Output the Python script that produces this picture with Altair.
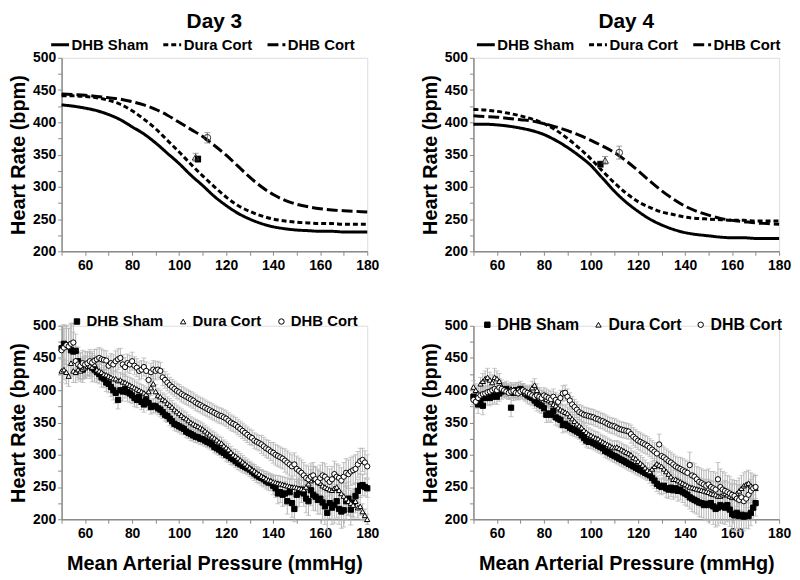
import altair as alt
import pandas as pd

SERIES = ["DHB Sham", "Dura Cort", "DHB Cort"]
FONT = "Liberation Sans"

# ---------- fitted curves (top panels), read every 5 mmHg ----------
curve_x = list(range(50, 181, 5))
d3_curve_sham = [427, 425, 422, 418, 412, 404, 393, 382, 368, 352, 336, 318, 302, 285,
                 271, 259, 250, 243, 238, 235, 233, 232, 231, 231, 230, 230, 230]
d3_curve_dura = [441, 441, 440, 438, 434, 428, 418, 405, 390, 372, 354, 335, 317, 300,
                 284, 271, 262, 255, 250, 247, 245, 244, 243, 243, 242, 242, 242]
d3_curve_cort = [444, 443, 442, 440, 438, 436, 432, 427, 420, 411, 400, 389, 378, 364,
                 349, 332, 315, 300, 288, 279, 273, 269, 266, 264, 263, 262, 261]
d4_curve_sham = [397, 397, 396, 394, 391, 387, 381, 372, 361, 348, 333, 313, 293, 276,
                 262, 250, 241, 234, 229, 226, 224, 222, 221, 221, 220, 220, 220]
d4_curve_dura = [420, 419, 417, 414, 410, 405, 398, 388, 375, 360, 343, 324, 306, 290,
                 277, 268, 261, 257, 253, 251, 250, 249, 248, 248, 247, 247, 247]
d4_curve_cort = [410, 409, 408, 406, 404, 402, 398, 393, 387, 380, 372, 363, 353, 340,
                 325, 309, 294, 281, 270, 262, 256, 251, 248, 246, 244, 243, 242]

# ---------- BP50 markers on the fitted curves ----------
d3_mark_x = [108, 107, 112]
d3_mark_hr = [343, 346, 376]
d3_mark_err = [5, 6, 8]
d4_mark_x = [104, 106, 112]
d4_mark_hr = [335, 341, 353]
d4_mark_err = [5, 6, 10]

# ---------- raw data (bottom panels) ----------
d3_x = list(range(50, 181))
d3_sham = [465, 472, 470, 468, 462, 460, 461, 445, 438, 432,
           436, 440, 438, 435, 432, 428, 425, 420, 418, 412,
           410, 405, 400, 396, 385, 400, 398, 402, 397, 395,
           392, 388, 385, 390, 382, 378, 385, 380, 374, 376,
           375, 372, 370, 366, 362, 360, 356, 352, 348, 346,
           344, 342, 340, 336, 334, 332, 330, 328, 327, 325,
           324, 322, 320, 318, 316, 312, 310, 308, 305, 303,
           300, 298, 295, 293, 290, 287, 285, 283, 281, 279,
           277, 274, 271, 268, 266, 264, 262, 259, 257, 256,
           252, 248, 240, 242, 238, 240, 228, 242, 225, 216,
           238, 242, 246, 240, 232, 228, 245, 238, 235, 230,
           232, 226, 220, 210, 225, 218, 222, 228, 216, 212,
           214, 228, 232, 215, 226, 236, 244, 252, 253, 250,
           248]
d3_dura = [430, 432, 428, 422, 442, 430, 428, 432, 430, 433,
           435, 437, 438, 436, 440, 432, 430, 428, 425, 424,
           422, 420, 418, 418, 415, 416, 413, 412, 410, 408,
           406, 404, 402, 400, 398, 396, 394, 398, 404, 410,
           398, 392, 390, 386, 384, 380, 377, 374, 370, 367,
           364, 361, 358, 356, 353, 350, 348, 346, 344, 342,
           340, 337, 334, 331, 328, 326, 323, 320, 318, 314,
           311, 308, 304, 300, 298, 295, 292, 289, 286, 283,
           280, 277, 275, 272, 270, 267, 265, 263, 261, 260,
           258, 257, 256, 255, 254, 253, 252, 251, 250, 250,
           249, 248, 247, 246, 250, 255, 260, 264, 262, 258,
           256, 252, 250, 248, 246, 245, 248, 250, 245, 240,
           236, 232, 228, 225, 222, 228, 218, 220, 212, 206,
           200]
d3_cort = [462, 466, 470, 468, 472, 474, 445, 440, 438, 442,
           440, 442, 445, 443, 446, 448, 450, 448, 447, 446,
           438, 442, 440, 445, 448, 450, 440, 436, 442, 440,
           445, 438, 435, 430, 432, 436, 430, 416, 428, 432,
           430, 432, 430, 420, 416, 412, 408, 405, 402, 399,
           397, 394, 392, 390, 388, 386, 384, 381, 379, 377,
           375, 373, 371, 369, 367, 365, 363, 361, 360, 358,
           356, 353, 350, 348, 346, 343, 340, 337, 334, 331,
           328, 326, 322, 320, 318, 316, 313, 310, 308, 305,
           303, 300, 298, 296, 294, 291, 288, 285, 282, 285,
           278, 275, 272, 268, 264, 262, 266, 268, 262, 258,
           264, 268, 266, 262, 258, 262, 270, 266, 264, 260,
           266, 272, 270, 274, 276, 278, 285, 290, 292, 288,
           282]
d3_sham_err = [35, 30, 30, 28, 40, 30, 26, 22, 20, 20,
               18, 18, 20, 22, 18, 16, 15, 15, 14, 14,
               14, 15, 15, 16, 14, 16, 15, 14, 14, 14,
               13, 13, 12, 12, 12, 12, 12, 11, 11, 11,
               10, 10, 11, 10, 10, 10, 11, 10, 10, 10,
               10, 10, 9, 9, 9, 10, 9, 9, 9, 9,
               9, 9, 9, 9, 9, 9, 9, 9, 9, 9,
               10, 10, 10, 10, 10, 10, 10, 10, 10, 10,
               11, 11, 11, 11, 11, 12, 12, 12, 12, 12,
               14, 14, 16, 16, 18, 18, 20, 20, 22, 20,
               20, 22, 20, 20, 22, 22, 24, 24, 22, 22,
               24, 26, 28, 26, 24, 26, 28, 26, 24, 26,
               26, 28, 26, 24, 22, 20, 18, 18, 16, 14,
               14]
d3_dura_err = [18, 16, 18, 16, 20, 18, 16, 16, 16, 16,
               16, 15, 15, 15, 14, 14, 14, 14, 13, 13,
               13, 13, 12, 12, 12, 12, 12, 12, 12, 12,
               12, 12, 11, 11, 11, 11, 11, 12, 12, 12,
               11, 11, 10, 10, 10, 10, 10, 10, 10, 10,
               10, 10, 10, 10, 9, 9, 9, 9, 9, 9,
               9, 9, 9, 9, 9, 9, 9, 9, 9, 9,
               9, 9, 9, 9, 10, 10, 10, 10, 10, 10,
               10, 10, 10, 10, 10, 10, 10, 11, 11, 11,
               11, 11, 12, 12, 12, 12, 12, 12, 12, 12,
               13, 13, 14, 14, 15, 16, 17, 18, 18, 18,
               18, 18, 18, 18, 18, 18, 18, 20, 20, 20,
               20, 20, 20, 20, 20, 18, 16, 14, 12, 10,
               8]
d3_cort_err = [32, 30, 30, 28, 32, 30, 22, 20, 20, 20,
               20, 18, 18, 17, 17, 16, 16, 16, 15, 15,
               15, 15, 15, 16, 16, 15, 15, 15, 14, 14,
               14, 14, 14, 14, 14, 14, 14, 14, 14, 14,
               14, 13, 13, 13, 13, 13, 12, 12, 12, 12,
               12, 12, 12, 12, 12, 12, 12, 12, 12, 12,
               12, 12, 12, 12, 12, 12, 12, 12, 12, 12,
               12, 12, 12, 12, 12, 12, 12, 12, 12, 12,
               12, 12, 12, 12, 12, 14, 14, 14, 14, 14,
               16, 16, 16, 16, 16, 18, 18, 18, 18, 18,
               20, 20, 20, 20, 20, 20, 20, 20, 20, 20,
               20, 20, 20, 20, 20, 20, 20, 20, 20, 20,
               22, 22, 22, 22, 22, 22, 20, 20, 18, 18,
               18]

d4_x = list(range(50, 171))
d4_sham = [390, 386, 378, 385, 376, 388, 390, 388, 390, 392,
           390, 395, 398, 400, 402, 398, 373, 396, 400, 398,
           402, 398, 395, 392, 390, 388, 384, 380, 378, 376,
           372, 362, 364, 362, 368, 358, 356, 354, 346, 348,
           345, 342, 340, 338, 336, 334, 330, 326, 322, 320,
           320, 318, 316, 314, 312, 310, 306, 304, 302, 300,
           298, 296, 294, 292, 290, 288, 286, 284, 282, 280,
           278, 276, 274, 272, 270, 268, 264, 260, 255, 252,
           250, 252, 248, 246, 249, 245, 248, 244, 246, 242,
           240, 238, 234, 232, 230, 228, 226, 225, 222, 224,
           222, 225, 220, 216, 218, 222, 220, 218, 222, 215,
           208, 206, 210, 205, 207, 204, 206, 205, 210, 218,
           225]
d4_dura = [405, 400, 395, 410, 414, 418, 420, 416, 412, 420,
           418, 414, 406, 402, 400, 398, 402, 400, 398, 402,
           398, 400, 395, 396, 398, 404, 408, 400, 394, 390,
           388, 386, 384, 382, 378, 376, 373, 370, 368, 366,
           364, 360, 356, 352, 348, 345, 342, 338, 335, 332,
           330, 328, 326, 325, 322, 320, 318, 316, 314, 312,
           311, 312, 310, 308, 306, 304, 302, 300, 296, 294,
           290, 287, 284, 280, 276, 274, 278, 282, 286, 284,
           282, 278, 274, 270, 266, 262, 262, 260, 258, 256,
           254, 252, 250, 249, 248, 247, 246, 245, 244, 243,
           242, 240, 239, 238, 236, 236, 238, 240, 238, 236,
           234, 236, 240, 244, 248, 252, 254, 256, 252, 250,
           248]
d4_cort = [385, 382, 388, 392, 394, 395, 397, 398, 400, 402,
           400, 404, 402, 400, 398, 396, 398, 399, 396, 395,
           398, 400, 398, 396, 394, 392, 390, 392, 390, 388,
           392, 390, 388, 386, 390, 385, 382, 388, 395, 396,
           390, 384, 378, 374, 370, 366, 364, 362, 361, 360,
           359, 358, 356, 355, 353, 352, 350, 348, 346, 345,
           344, 342, 340, 339, 338, 337, 336, 332, 328, 325,
           322, 320, 318, 316, 314, 311, 308, 305, 302, 316,
           298, 296, 293, 290, 288, 285, 282, 280, 278, 276,
           274, 272, 284, 268, 266, 262, 258, 256, 254, 252,
           254, 250, 248, 246, 262, 250, 246, 244, 242, 240,
           238, 236, 232, 230, 234, 228, 232, 238, 244, 248,
           250]
d4_sham_err = [12, 12, 14, 12, 14, 12, 12, 12, 12, 12,
               12, 12, 12, 12, 12, 12, 14, 12, 12, 12,
               12, 12, 12, 12, 12, 12, 12, 12, 12, 12,
               12, 12, 12, 12, 12, 12, 12, 12, 12, 12,
               10, 10, 10, 10, 10, 10, 10, 10, 10, 10,
               10, 10, 10, 10, 10, 10, 10, 10, 10, 10,
               10, 10, 10, 10, 10, 10, 10, 10, 10, 10,
               10, 10, 10, 10, 10, 12, 12, 12, 12, 12,
               12, 12, 14, 14, 14, 14, 14, 16, 16, 16,
               18, 18, 18, 20, 20, 20, 22, 22, 24, 24,
               26, 26, 28, 28, 28, 28, 26, 26, 26, 26,
               24, 24, 24, 24, 22, 22, 20, 20, 20, 20,
               20]
d4_dura_err = [10, 10, 10, 10, 12, 12, 14, 12, 12, 14,
               12, 12, 10, 10, 10, 10, 10, 10, 10, 10,
               10, 10, 10, 10, 10, 10, 10, 10, 10, 10,
               10, 10, 10, 10, 10, 10, 10, 10, 10, 10,
               10, 10, 10, 10, 10, 10, 10, 10, 10, 10,
               10, 10, 10, 10, 10, 10, 10, 10, 10, 10,
               10, 10, 10, 10, 10, 10, 10, 10, 10, 10,
               12, 12, 12, 12, 12, 12, 12, 12, 12, 12,
               14, 14, 14, 14, 14, 14, 14, 14, 14, 14,
               16, 16, 16, 16, 16, 16, 18, 18, 18, 18,
               20, 20, 20, 20, 20, 20, 20, 20, 20, 20,
               20, 20, 20, 20, 20, 20, 20, 20, 20, 20,
               20]
d4_cort_err = [10, 10, 10, 10, 10, 10, 10, 10, 10, 10,
               10, 14, 10, 10, 10, 10, 10, 10, 10, 10,
               10, 10, 10, 10, 10, 10, 12, 12, 12, 12,
               12, 12, 12, 12, 12, 12, 12, 12, 12, 12,
               12, 12, 12, 12, 12, 12, 12, 12, 12, 12,
               12, 12, 12, 12, 12, 12, 12, 12, 12, 12,
               12, 12, 12, 12, 12, 12, 12, 14, 14, 14,
               14, 14, 14, 14, 14, 14, 14, 14, 14, 16,
               16, 16, 16, 16, 16, 16, 16, 16, 18, 18,
               18, 18, 20, 20, 20, 20, 22, 22, 22, 24,
               24, 24, 26, 26, 26, 28, 28, 28, 26, 26,
               24, 24, 22, 22, 20, 20, 20, 20, 18, 18,
               18]


# ---------- tables ----------
def curve_table(sham, dura, cort):
    rows = []
    for g, vals in zip(SERIES, [sham, dura, cort]):
        for x, v in zip(curve_x, vals):
            rows.append({"x": x, "hr": v, "group": g})
    return pd.DataFrame(rows)


def point_table(xs_list, hr_list, err_list):
    rows = []
    for g, xs, hrs, errs in zip(SERIES, xs_list, hr_list, err_list):
        for x, v, e in zip(xs, hrs, errs):
            rows.append({"x": x, "hr": v, "lo": v - e, "hi": v + e, "group": g})
    return pd.DataFrame(rows)


d3_curves = curve_table(d3_curve_sham, d3_curve_dura, d3_curve_cort)
d4_curves = curve_table(d4_curve_sham, d4_curve_dura, d4_curve_cort)
d3_marks = point_table([[d3_mark_x[i]] for i in range(3)], [[d3_mark_hr[i]] for i in range(3)],
                       [[d3_mark_err[i]] for i in range(3)])
d4_marks = point_table([[d4_mark_x[i]] for i in range(3)], [[d4_mark_hr[i]] for i in range(3)],
                       [[d4_mark_err[i]] for i in range(3)])
d3_raw = point_table([d3_x] * 3, [d3_sham, d3_dura, d3_cort], [d3_sham_err, d3_dura_err, d3_cort_err])
d4_raw = point_table([d4_x] * 3, [d4_sham, d4_dura, d4_cort], [d4_sham_err, d4_dura_err, d4_cort_err])

W, H = 308, 195
AXIS_GREY = "#8a8a8a"
ERR_GREY = "#b4b4b4"
X_TICKS = list(range(50, 181, 10))
Y_TICKS = list(range(200, 501, 25))


def x_enc(show_title, field="x"):
    kw = dict(values=X_TICKS,
              labelExpr="datum.value % 20 == 0 ? datum.label : ''",
              labelOverlap=False, labelFlush=False)
    if show_title:
        kw.update(title="Mean Arterial Pressure (mmHg)", titlePadding=14)
    else:
        kw.update(title=None)
    return alt.X(f"{field}:Q", scale=alt.Scale(domain=[50, 180], nice=False, zero=False),
                 axis=alt.Axis(**kw))


def y_enc(field="hr"):
    return alt.Y(f"{field}:Q", scale=alt.Scale(domain=[200, 500], nice=False, zero=False),
                 axis=alt.Axis(values=Y_TICKS,
                               labelExpr="datum.value % 50 == 0 ? datum.label : ''",
                               labelOverlap=False, labelFlush=False,
                               title="Heart Rate (bpm)", titlePadding=4, labelPadding=2))


def legend_common(x, y, fs=15):
    return dict(orient="none", legendX=x, legendY=y, direction="horizontal", title=None,
                labelFont=FONT, labelFontSize=fs, labelFontWeight="bold", labelColor="black")


def top_panel(curves, marks, title, lx, ly):
    X = x_enc(False)
    Y = y_enc()
    lines = alt.Chart(curves).mark_line(color="black", strokeWidth=3, interpolate="monotone").encode(
        x=X, y=Y,
        strokeDash=alt.StrokeDash("group:N",
                                  scale=alt.Scale(domain=SERIES, range=[[1, 0], [5, 3], [11, 4]]),
                                  legend=alt.Legend(symbolType="stroke", symbolSize=324,
                                                    symbolStrokeWidth=3, symbolStrokeColor="black",
                                                    labelOffset=1, columnPadding=8,
                                                    **legend_common(lx, ly))),
        detail="group:N")
    errs = alt.Chart(marks).mark_rule(color="#777777", strokeWidth=1).encode(
        x=X, y=y_enc("lo"), y2="hi:Q")
    caps_hi = alt.Chart(marks).mark_tick(color="#777777", thickness=1, size=6, orient="horizontal").encode(
        x=X, y=y_enc("hi"))
    caps_lo = alt.Chart(marks).mark_tick(color="#777777", thickness=1, size=6, orient="horizontal").encode(
        x=X, y=y_enc("lo"))
    sq = alt.Chart(marks).transform_filter(alt.datum.group == "DHB Sham").mark_point(
        shape="square", filled=True, color="black", size=40, opacity=1).encode(x=X, y=Y)
    tri = alt.Chart(marks).transform_filter(alt.datum.group == "Dura Cort").mark_point(
        shape="triangle-up", filled=False, color="#333333", size=45, strokeWidth=1, opacity=1).encode(
        x=X, y=Y)
    cir = alt.Chart(marks).transform_filter(alt.datum.group == "DHB Cort").mark_point(
        shape="circle", filled=False, color="#333333", size=45, strokeWidth=1, opacity=1).encode(
        x=X, y=Y)
    return alt.layer(lines, errs, caps_hi, caps_lo, sq, tri, cir).properties(
        width=W, height=H,
        title=alt.TitleParams(title, font=FONT, fontSize=21, fontWeight="bold", color="black",
                              anchor="middle", offset=2))


def bottom_panel(raw, lx, ly, fs, cpad):
    X = x_enc(True)
    errs = alt.Chart(raw).mark_rule(color=ERR_GREY, strokeWidth=1).encode(
        x=X, y=y_enc("lo"), y2="hi:Q")
    caps_hi = alt.Chart(raw).mark_tick(color=ERR_GREY, thickness=1, size=5, orient="horizontal").encode(
        x=X, y=y_enc("hi"))
    caps_lo = alt.Chart(raw).mark_tick(color=ERR_GREY, thickness=1, size=5, orient="horizontal").encode(
        x=X, y=y_enc("lo"))
    leg = alt.Legend(symbolSize=30, symbolStrokeWidth=1,
                     labelOffset=2, columnPadding=cpad, **legend_common(lx, ly, fs))
    pts = alt.Chart(raw).mark_point(filled=True, strokeWidth=1, size=28, opacity=1).encode(
        x=X, y=y_enc("hr"),
        shape=alt.Shape("group:N", scale=alt.Scale(domain=SERIES, range=["square", "triangle-up", "circle"]),
                        legend=leg),
        fill=alt.Fill("group:N", scale=alt.Scale(domain=SERIES, range=["black", "white", "white"]),
                      legend=leg),
        stroke=alt.Stroke("group:N", scale=alt.Scale(domain=SERIES, range=["black", "black", "black"]),
                          legend=leg))
    return alt.layer(errs, caps_hi, caps_lo, pts).properties(width=W, height=H)


tl = top_panel(d3_curves, d3_marks, "Day 3", -12, -24)
tr = top_panel(d4_curves, d4_marks, "Day 4", 2, -24)
bl = bottom_panel(d3_raw, 8, -12, 15, 12)
br = bottom_panel(d4_raw, 6, -9, 16, 11)

IND = dict(strokeDash="independent", shape="independent", fill="independent", stroke="independent")


def row(a, b):
    return alt.hconcat(a, b, spacing=40).resolve_scale(**IND).resolve_legend(**IND)


chart = alt.vconcat(
    row(tl, tr),
    row(bl, br),
    spacing=40,
).resolve_scale(**IND).resolve_legend(**IND).properties(padding=0).configure_view(
    stroke=None
).configure(background="white").configure_axis(
    labelOverlap=False, grid=False,
    labelFont=FONT, labelFontSize=14, labelFontWeight="bold", labelColor="black",
    titleFont=FONT, titleFontSize=20, titleFontWeight="bold", titleColor="black",
    domainColor=AXIS_GREY, domainWidth=1.5, tickColor=AXIS_GREY, tickSize=4, labelPadding=3,
)

chart.save("out.html", embed_options={"renderer": "svg", "actions": False})
